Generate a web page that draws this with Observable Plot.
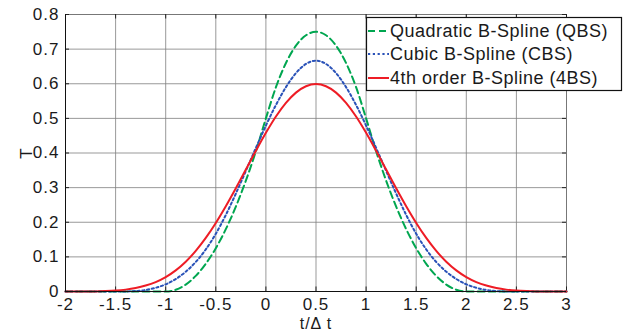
<!DOCTYPE html>
<html>
<head>
<meta charset="utf-8">
<script src="https://cdn.jsdelivr.net/npm/d3@7"></script>
<script src="https://cdn.jsdelivr.net/npm/@observablehq/plot@0.6"></script>
<style>
  html, body { margin: 0; padding: 0; background: #fff; }
  #chart svg { display: block; }
</style>
</head>
<body>
<div id="chart"></div>
<script>
// t / Δt sample positions
const tVals = [-2.0,-1.9,-1.8,-1.7,-1.6,-1.5,-1.4,-1.3,-1.2,-1.1,-1.0,-0.9,-0.8,-0.7,-0.6,-0.5,-0.4,-0.3,-0.2,-0.1,
  0.0,0.1,0.2,0.3,0.4,0.5,0.6,0.7,0.8,0.9,1.0,1.1,1.2,1.3,1.4,1.5,1.6,1.7,1.8,1.9,
  2.0,2.1,2.2,2.3,2.4,2.5,2.6,2.7,2.8,2.9,3.0];

// Quadratic B-Spline (QBS)
const qbsVals = [0,0,0,0,0,0,0,0,0,0,0,0.005,0.02,0.045,0.08,0.125,0.18,0.245,0.32,0.405,
  0.5,0.59,0.66,0.71,0.74,0.75,0.74,0.71,0.66,0.59,0.5,0.405,0.32,0.245,0.18,0.125,0.08,0.045,0.02,0.005,
  0,0,0,0,0,0,0,0,0,0,0];

// Cubic B-Spline (CBS)
const cbsVals = [0,0,0,0,0,0,0.0002,0.0013,0.0045,0.0107,0.0208,0.036,0.0572,0.0853,0.1215,0.1667,0.2212,0.2827,0.3482,0.4147,
  0.4792,0.5387,0.5902,0.6307,0.6572,0.6667,0.6572,0.6307,0.5902,0.5387,0.4792,0.4147,0.3482,0.2827,0.2212,0.1667,0.1215,0.0853,0.0572,0.036,
  0.0208,0.0107,0.0045,0.0013,0.0002,0,0,0,0,0,0];

// 4th order B-Spline (4BS)
const fbsVals = [0,0,0.0001,0.0003,0.0011,0.0026,0.0054,0.0100,0.0171,0.0273,0.0417,0.0610,0.0861,0.1173,0.1547,0.1979,0.2461,0.2980,0.3521,0.4063,
  0.4583,0.5054,0.5448,0.5744,0.5927,0.5990,0.5927,0.5744,0.5448,0.5054,0.4583,0.4063,0.3521,0.2980,0.2461,0.1979,0.1547,0.1173,0.0861,0.0610,
  0.0417,0.0273,0.0171,0.0100,0.0054,0.0026,0.0011,0.0003,0.0001,0,0];

const xTicks = [-2,-1.5,-1,-0.5,0,0.5,1,1.5,2,2.5,3];
const yTicks = [0,0.1,0.2,0.3,0.4,0.5,0.6,0.7,0.8];

const seriesNames = ["Quadratic B-Spline (QBS)", "Cubic B-Spline (CBS)", "4th order B-Spline (4BS)"];
const seriesColors = ["#00a650", "#2a52b8", "#ee1c25"];
const seriesDash = ["7,4", "2.2,2.6", null];

const rows = (vals) => tVals.map((t, i) => ({t, v: vals[i]}));
const seriesData = [rows(qbsVals), rows(cbsVals), rows(fbsVals)];

const font = "'Liberation Sans', Arial, Helvetica, sans-serif";

const lineMarks = seriesData.map((d, i) => Plot.line(d, {
  x: "t", y: "v", stroke: seriesColors[i], strokeWidth: 2,
  strokeDasharray: seriesDash[i] || undefined, curve: "monotone-x"
}));

const chart = Plot.plot({
  width: 629,
  height: 332,
  marginLeft: 65,
  marginRight: 63,
  marginTop: 14,
  marginBottom: 41,
  style: {fontFamily: font, fontSize: "17px", color: "#1a1a1a", background: "#fff", letterSpacing: "1px"},
  x: {domain: [-2, 3]},
  y: {domain: [0, 0.8]},
  marks: [
    Plot.gridX(xTicks, {stroke: "#808080", strokeOpacity: 0.8}),
    Plot.gridY(yTicks, {stroke: "#808080", strokeOpacity: 0.8}),
    Plot.ruleX([3], {stroke: "#777"}),
    Plot.ruleY([0.8], {stroke: "#777"}),
    Plot.ruleX(xTicks, {x: d => d, y1: 0, y2: 0.013, stroke: "#222"}),
    Plot.ruleX(xTicks, {x: d => d, y1: 0.787, y2: 0.8, stroke: "#222"}),
    Plot.ruleY(yTicks, {y: d => d, x1: -2, x2: -1.96, stroke: "#222"}),
    Plot.ruleY(yTicks, {y: d => d, x1: 2.96, x2: 3, stroke: "#222"}),
    Plot.axisX(xTicks, {tickSize: 0, tickPadding: 6, tickFormat: d => String(d), label: null}),
    Plot.axisX({ticks: [], tickSize: 0, label: "t/Δ t", labelAnchor: "center", labelArrow: "none",
      labelOffset: 37, fontSize: 16}),
    Plot.axisY(yTicks, {tickSize: 0, tickPadding: 6, tickFormat: d => String(d),
      label: "T", labelAnchor: "center", labelArrow: "none", labelOffset: 46}),
    ...lineMarks,
    Plot.ruleX([-2], {stroke: "#111"}),
    Plot.ruleY([0], {stroke: "#111"})
  ]
});

document.getElementById("chart").appendChild(chart);

// Legend box (inside the SVG, top right)
const svg = d3.select(chart);
const lg = svg.append("g").attr("font-family", font).attr("font-size", 18)
  .attr("letter-spacing", "0.5px").attr("text-anchor", "start");
lg.append("rect").attr("x", 366.5).attr("y", 17.5).attr("width", 255).attr("height", 73)
  .attr("fill", "#fff").attr("stroke", "#111").attr("stroke-width", 1.2);
const rowY = [31, 54, 78];
seriesNames.forEach((name, i) => {
  lg.append("line").attr("x1", 368).attr("x2", 389).attr("y1", rowY[i]).attr("y2", rowY[i])
    .attr("stroke", seriesColors[i]).attr("stroke-width", 2)
    .attr("stroke-dasharray", seriesDash[i] || null);
  lg.append("text").attr("x", 390).attr("y", rowY[i]).attr("dy", "0.36em")
    .attr("text-anchor", "start").attr("fill", "#1a1a1a").text(name);
});
</script>
</body>
</html>
